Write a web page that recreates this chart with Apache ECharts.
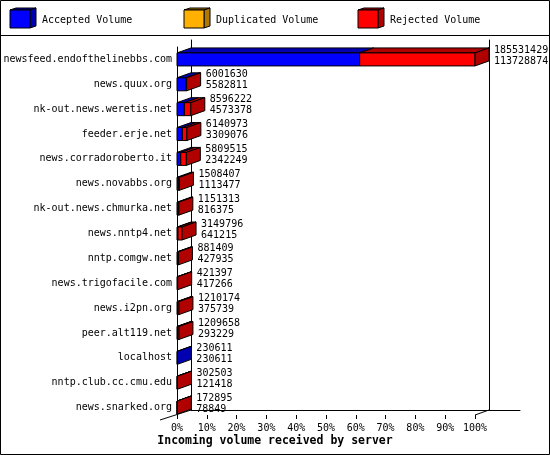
<!DOCTYPE html>
<html>
<head>
<meta charset="utf-8">
<script src="https://cdn.jsdelivr.net/npm/echarts@6/dist/echarts.min.js"></script>
<style>
html, body { margin: 0; padding: 0; background: #fff; }
#chart { width: 550px; height: 455px; }
</style>
</head>
<body>
<div id="chart"></div>
<script>
// servers, top to bottom
const servers = [
    'newsfeed.endofthelinebbs.com', 'news.quux.org', 'nk-out.news.weretis.net',
    'feeder.erje.net', 'news.corradoroberto.it', 'news.novabbs.org',
    'nk-out.news.chmurka.net', 'news.nntp4.net', 'nntp.comgw.net',
    'news.trigofacile.com', 'news.i2pn.org', 'peer.alt119.net',
    'localhost', 'nntp.club.cc.cmu.edu', 'news.snarked.org'
];
// first label line (total volume)
const totalVolume = [
    185531429, 6001630, 8596222, 6140973, 5809515, 1508407, 1151313, 3149796,
    881409, 421397, 1210174, 1209658, 230611, 302503, 172895
];
// second label line (accepted volume)
const acceptedVolume = [
    113728874, 5582811, 4573378, 3309076, 2342249, 1113477, 816375, 641215,
    427935, 417266, 375739, 293229, 230611, 121418, 78849
];
// no orange anywhere in the picture
const duplicatedVolume = [0, 0, 0, 0, 0, 0, 0, 0, 0, 0, 0, 0, 0, 0, 0];
const seriesNames = ['Accepted Volume', 'Duplicated Volume', 'Rejected Volume'];
const percentTicks = [0, 10, 20, 30, 40, 50, 60, 70, 80, 90, 100];

const frontColors = ['#0000ff', '#ffb000', '#ff0000'];
const sideColors = ['#0000b0', '#b07800', '#b00000'];
const font = 'DejaVu Sans Mono';

// 3d depth of the bars
const DX = 14, DY = 5, BAR_H = 13;

const rejectedVolume = totalVolume.map((t, i) => t - acceptedVolume[i] - duplicatedVolume[i]);
const maxTotal = Math.max.apply(null, totalVolume);
const pct = v => v / maxTotal * 100;

const barData = servers.map((s, i) => [
    pct(acceptedVolume[i]), pct(duplicatedVolume[i]), pct(rejectedVolume[i]), i,
    totalVolume[i], acceptedVolume[i]
]);

function renderBar(params, api) {
    const i = api.value(3);
    const vals = [api.value(0), api.value(1), api.value(2)];
    const c = api.coord([0, i]);
    const y0 = c[1] - BAR_H / 2;
    const children = [];
    let start = 0, lastEnd = c[0], lastIdx = 2;
    vals.forEach((v, k) => {
        if (v <= 0) return;
        const x0 = api.coord([start, i])[0];
        const x1 = api.coord([start + v, i])[0];
        children.push({
            type: 'polygon',
            shape: {points: [[x0, y0], [x0 + DX, y0 - DY], [x1 + DX, y0 - DY], [x1, y0]]},
            style: {fill: sideColors[k], stroke: '#000', lineWidth: 1}
        });
        children.push({
            type: 'rect',
            shape: {x: x0, y: y0, width: x1 - x0, height: BAR_H},
            style: {fill: frontColors[k], stroke: '#000', lineWidth: 1}
        });
        start += v;
        lastEnd = x1;
        lastIdx = k;
    });
    children.push({
        type: 'polygon',
        shape: {points: [[lastEnd, y0], [lastEnd + DX, y0 - DY], [lastEnd + DX, y0 + BAR_H - DY], [lastEnd, y0 + BAR_H]]},
        style: {fill: sideColors[lastIdx], stroke: '#000', lineWidth: 1}
    });
    children.push({
        type: 'text',
        x: lastEnd + DX + 5,
        y: c[1] - 4,
        style: {
            text: api.value(4) + '\n' + api.value(5),
            font: '10px "' + font + '"',
            fill: '#000',
            lineHeight: 11,
            verticalAlign: 'middle',
            align: 'left'
        }
    });
    return {type: 'group', children: children};
}

// legend drawn as little 3d boxes
const legendGraphics = [];
seriesNames.forEach((name, k) => {
    legendGraphics.push({
        type: 'group', x: 10 + k * 174, y: 10,
        children: [
            {type: 'polygon', shape: {points: [[0, 0], [6, -2], [26, -2], [20, 0]]},
             style: {fill: sideColors[k], stroke: '#000'}},
            {type: 'polygon', shape: {points: [[20, 0], [26, -2], [26, 16], [20, 18]]},
             style: {fill: sideColors[k], stroke: '#000'}},
            {type: 'rect', shape: {x: 0, y: 0, width: 20, height: 18},
             style: {fill: frontColors[k], stroke: '#000'}},
            {type: 'text', x: 32, y: 10,
             style: {text: name, font: '10px "' + font + '"', fill: '#000', verticalAlign: 'middle'}}
        ]
    });
});

const chart = echarts.init(document.getElementById('chart'), null, {renderer: 'canvas'});

const option = {
    backgroundColor: '#fff',
    animation: false,
    grid: [
        // front plane
        {left: 177, right: 75, top: 47, bottom: 35},
        // back wall
        {left: 191, right: 30, top: 40, bottom: 45},
        // front left edge
        {left: 177, right: 75, top: 47, bottom: 40}
    ],
    xAxis: [
        {
            gridIndex: 0, type: 'value', min: 0, max: 100, interval: 10, offset: -5,
            axisLine: {show: false},
            axisTick: {show: true, length: 4, lineStyle: {color: '#000'}},
            axisLabel: {
                margin: 8, color: '#000', fontFamily: font, fontSize: 10,
                formatter: v => percentTicks.indexOf(v) >= 0 ? v + '%' : ''
            },
            splitLine: {show: false}
        },
        {
            gridIndex: 1, type: 'value', min: 0, max: 100,
            axisLine: {show: true, lineStyle: {color: '#000'}},
            axisTick: {show: false}, axisLabel: {show: false}, splitLine: {show: false}
        },
        {
            gridIndex: 2, type: 'value', show: false
        }
    ],
    yAxis: [
        {
            gridIndex: 0, type: 'category', data: servers, inverse: true,
            axisLine: {show: false}, axisTick: {show: false},
            axisLabel: {margin: 5, color: '#000', fontFamily: font, fontSize: 10}
        },
        {
            gridIndex: 1, type: 'value', position: 'left',
            axisLine: {show: true, lineStyle: {color: '#000'}},
            axisTick: {show: false}, axisLabel: {show: false}, splitLine: {show: false}
        },
        {
            gridIndex: 1, type: 'value', position: 'right', offset: -31,
            axisLine: {show: true, lineStyle: {color: '#000'}},
            axisTick: {show: false}, axisLabel: {show: false}, splitLine: {show: false}
        },
        {
            gridIndex: 2, type: 'value', position: 'left',
            axisLine: {show: true, lineStyle: {color: '#000'}},
            axisTick: {show: false}, axisLabel: {show: false}, splitLine: {show: false}
        }
    ],
    series: [
        {
            type: 'custom',
            name: 'volume',
            xAxisIndex: 0,
            yAxisIndex: 0,
            renderItem: renderBar,
            encode: {x: 0, y: 3},
            data: barData,
            z: 5
        }
    ],
    graphic: legendGraphics.concat([
        {type: 'rect', shape: {x: 0.5, y: 0.5, width: 549, height: 454},
         style: {fill: 'none', stroke: '#000', lineWidth: 1}, silent: true},
        {type: 'line', shape: {x1: 0, y1: 35.5, x2: 550, y2: 35.5},
         style: {stroke: '#000', lineWidth: 1}},
        // floor edges
        {type: 'line', shape: {x1: 160, y1: 420, x2: 191, y2: 410},
         style: {stroke: '#000', lineWidth: 1}},
        {type: 'line', shape: {x1: 475, y1: 415, x2: 489, y2: 410},
         style: {stroke: '#000', lineWidth: 1}},
        {type: 'text', x: 275, y: 441,
         style: {text: 'Incoming volume received by server', font: 'bold 11.5px "' + font + '"',
                 fill: '#000', align: 'center', verticalAlign: 'middle'}}
    ])
};

chart.setOption(option);
</script>
</body>
</html>
